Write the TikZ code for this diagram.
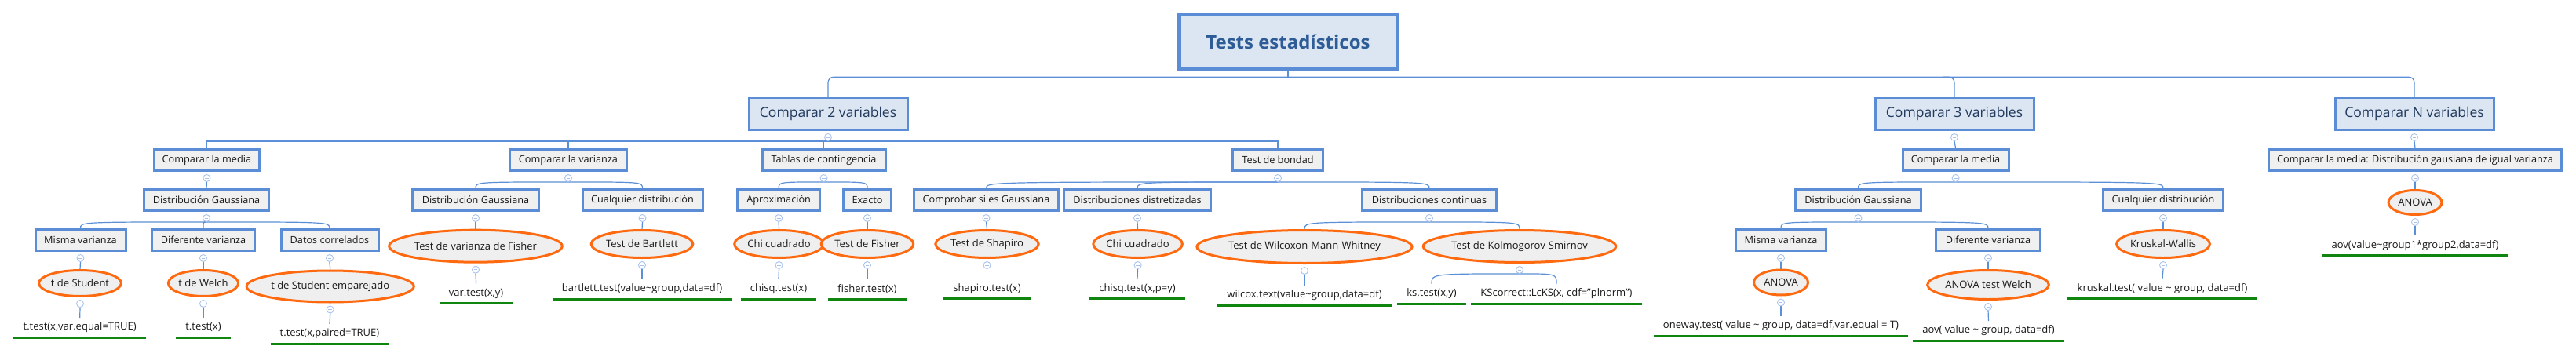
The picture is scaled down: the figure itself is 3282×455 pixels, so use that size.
\documentclass[tikz,border=0pt]{standalone}
\usepackage{fontspec}
\setmainfont{Open Sans}
\usetikzlibrary{shapes.geometric,calc,backgrounds}
\newcommand\fsz[1]{\fontsize{#1}{#1}\selectfont}
\definecolor{bblue}{HTML}{5A8DD6}
\definecolor{lfill}{HTML}{DCE6F2}
\definecolor{gfill}{HTML}{F0F0F0}
\definecolor{efill}{HTML}{EFEFEF}
\definecolor{orng}{HTML}{FF6A10}
\definecolor{ttl}{HTML}{2E5C96}
\definecolor{navy}{HTML}{223A5E}
\definecolor{cline}{HTML}{5B8FD8}
\definecolor{mline}{HTML}{A9C3EE}
\definecolor{grn}{HTML}{108510}
\definecolor{txt}{HTML}{1A1A1A}
\tikzset{
 l1/.style={rectangle, draw=bblue, line width=5pt, fill=lfill, text=ttl, font=\fsz{24}\bfseries, minimum width=278pt, minimum height=70pt, inner sep=0pt},
 l2/.style={rectangle, draw=bblue, line width=3pt, fill=lfill, text=navy, font=\fsz{17.5}, minimum width=202pt, minimum height=41pt, inner sep=0pt},
 bx/.style={rectangle, draw=bblue, line width=3pt, fill=gfill, text=txt, font=\fsz{12.7}, minimum height=27pt, inner sep=0pt},
 el/.style={ellipse, draw=orng, line width=3pt, fill=efill, text=txt, font=\fsz{13}, inner sep=0pt},
 ul/.style={draw=grn, line width=3pt},
 code/.style={text=txt, font=\fsz{13}, inner xsep=12pt, inner ysep=0pt, text height=9.5pt, text depth=3pt, minimum height=25pt, append after command={(\tikzlastnode.south west) edge[ul] (\tikzlastnode.south east)}},
 conn/.style={draw=cline, line width=1.2pt},
 mc/.style={circle, draw=mline, fill=white, line width=0.9pt, minimum size=9pt, inner sep=0pt, path picture={\draw[mline, line width=0.9pt] ([xshift=-2.4pt]path picture bounding box.center) -- ([xshift=2.4pt]path picture bounding box.center);}},
}
\newcommand\mcirc[1]{\node[mc] (m#1) at ($(#1.south)+(0,8)$) {};}
\newcommand\kid[2]{\draw[conn] (m#1.south) -- (#2.north);}
\newcommand\bkid[2]{\draw[conn] (m#1.south) .. controls (#2.north |- m#1.south) .. (#2.north);}
\begin{document}
\begin{tikzpicture}[x=1pt,y=-1pt]
\useasboundingbox (0,0) rectangle (3282,455);
% level 1 and 2
\node[l1] (t) at (1641,53.5) {Tests estadísticos};
\node[l2] (v2) at (1055,145) {Comparar 2 variables};
\node[l2] (v3) at (2490,145) {Comparar 3 variables};
\node[l2] (vN) at (3076,145) {Comparar N variables};
% level 3
\node[bx, minimum width=134pt] (a) at (263.4,204) {Comparar la media};
\node[bx, minimum width=149pt] (b) at (724,204) {Comparar la varianza};
\node[bx, minimum width=157pt] (c) at (1049.5,204) {Tablas de contingencia};
\node[bx, minimum width=115pt] (d) at (1628,204) {Test de bondad};
\node[bx, minimum width=135pt] (e) at (2491.6,204) {Comparar la media};
\node[bx, minimum width=373pt] (f) at (3077,204) {Comparar la media: Distribución gausiana de igual varianza};
% level 4
\node[bx, minimum width=159.5pt] (a1) at (263,255) {Distribución Gaussiana};
\node[bx, minimum width=160.5pt] (b1) at (606,255) {Distribución Gaussiana};
\node[bx, minimum width=153pt] (b2) at (818.5,255) {Cualquier distribución};
\node[bx, minimum width=105pt] (c1) at (992.2,255) {Aproximación};
\node[bx, minimum width=61pt] (c2) at (1105,255) {Exacto};
\node[bx, minimum width=184pt] (d1) at (1256.5,255) {Comprobar si es Gaussiana};
\node[bx, minimum width=187pt] (d2) at (1449,255) {Distribuciones distretizadas};
\node[bx, minimum width=170.5pt] (d3) at (1821,255) {Distribuciones continuas};
\node[bx, minimum width=160pt] (e1) at (2367.5,255) {Distribución Gaussiana};
\node[bx, minimum width=153pt] (e2) at (2756,255) {Cualquier distribución};
\node[el, minimum width=68pt, minimum height=31pt] (f1) at (3077,258) {ANOVA};
% level 5
\node[bx, minimum width=115pt] (a11) at (102.5,306) {Misma varianza};
\node[bx, minimum width=131.6pt] (a12) at (259,306) {Diferente varianza};
\node[bx, minimum width=124pt] (a13) at (420,306) {Datos correlados};
\node[el, minimum width=181pt, minimum height=41pt] (b11) at (606,313.7) {Test de varianza de Fisher};
\node[el, minimum width=116pt, minimum height=35pt] (b21) at (818,311) {Test de Bartlett};
\node[el, minimum width=102pt, minimum height=35pt] (c11) at (992.5,311) {Chi cuadrado};
\node[el, minimum width=105pt, minimum height=35pt] (c21) at (1105,311) {Test de Fisher};
\node[el, minimum width=115pt, minimum height=35pt] (d11) at (1257.5,311) {Test de Shapiro};
\node[el, minimum width=102pt, minimum height=35pt] (d21) at (1449.6,311) {Chi cuadrado};
\node[el, minimum width=224pt, minimum height=42pt] (d31) at (1662,314.5) {Test de Wilcoxon-Mann-Whitney};
\node[el, minimum width=203pt, minimum height=41pt] (d32) at (1936,314) {Test de Kolmogorov-Smirnov};
\node[bx, minimum width=115.6pt] (e11) at (2269,306) {Misma varianza};
\node[bx, minimum width=132.7pt] (e12) at (2533,306) {Diferente varianza};
\node[el, minimum width=107pt, minimum height=35pt] (e21) at (2756,311) {Kruskal-Wallis};
\node[code] (f11) at (3077,313) {aov(value\textasciitilde group1*group2,data=df)};
% level 6
\node[el, minimum width=97pt, minimum height=33pt] (a111) at (102,361) {t de Student};
\node[el, minimum width=85pt, minimum height=33pt] (a121) at (259,361) {t de Welch};
\node[el, minimum width=177pt, minimum height=40pt] (a131) at (420.7,365) {t de Student emparejado};
\node[code] (b111) at (606.6,374) {var.test(x,y)};
\node[code] (b211) at (818,368.3) {bartlett.test(value\textasciitilde group,data=df)};
\node[code] (c111) at (992,368.3) {chisq.test(x)};
\node[code] (c211) at (1105,369) {fisher.test(x)};
\node[code] (d111) at (1257.5,368) {shapiro.test(x)};
\node[code] (d211) at (1449,368) {chisq.test(x,p=y)};
\node[code] (d311) at (1662,376.7) {wilcox.text(value\textasciitilde group,data=df)};
\node[code] (d321) at (1824,374.3) {ks.test(x,y)};
\node[code] (d322) at (1983,374.3) {KScorrect::LcKS(x, cdf="plnorm")};
\node[el, minimum width=69pt, minimum height=32pt] (e111) at (2269,360) {ANOVA};
\node[el, minimum width=134pt, minimum height=37pt] (e121) at (2533,363) {ANOVA test Welch};
\node[code] (e211) at (2755,368) {kruskal.test( value \textasciitilde\ group, data=df)};
% level 7
\node[code] (a1111) at (101.7,417.7) {t.test(x,var.equal=TRUE)};
\node[code] (a1211) at (259,417.7) {t.test(x)};
\node[code] (a1311) at (420,425.7) {t.test(x,paired=TRUE)};
\node[code] (e1111) at (2269,415.7) {oneway.test( value \textasciitilde\ group, data=df,var.equal = T)};
\node[code] (e1211) at (2533.5,421.7) {aov( value \textasciitilde\ group, data=df)};
% collapse circles
\foreach \p in {v2,v3,vN,a,b,c,d,e,f,a1,b1,b2,c1,c2,d1,d2,d3,e1,e2,f1,a11,a12,a13,b11,b21,c11,c21,d11,d21,d31,d32,e11,e12,e21,a111,a121,a131,e111,e121} {\mcirc{\p}}
% hub coordinates
\coordinate (h1) at (1641,98.3);
\coordinate (j3) at (2476,98.3);
\coordinate (h2) at (1055,180);
\begin{pgfonlayer}{background}
\fill[white] (0,0) rectangle (3282,455);
\draw[conn] (t.south) -- (h1);
\draw[conn, rounded corners=7pt] (v2.north) |- (h1) -| (vN.north);
\draw[conn, rounded corners=7pt] (j3) -| (v3.north);
\draw[conn] (mv2.south) -- (h2);
\draw[conn] (a.north) |- (h2) -| (d.north);
\draw[conn] (b.north) -- (b.north |- h2);
\draw[conn] (c.north) -- (c.north |- h2);
\foreach \p/\c in {v3/e, vN/f, a/a1, f/f1, b1/b11, b2/b21, c1/c11, c2/c21, d1/d11, d2/d21, e2/e21, f1/f11, a11/a111, a12/a121, a13/a131, b11/b111, b21/b211, c11/c111, c21/c211, d11/d111, d21/d211, d31/d311, e11/e111, e12/e121, e21/e211, a111/a1111, a121/a1211, a131/a1311, e111/e1111, e121/e1211} {\kid{\p}{\c}}
\foreach \p/\c in {b/b1, b/b2, c/c1, c/c2, d/d1, d/d2, d/d3, e/e1, e/e2, a1/a11, a1/a12, a1/a13, d3/d31, d3/d32, e1/e11, e1/e12, d32/d321, d32/d322} {\bkid{\p}{\c}}
\end{pgfonlayer}
\end{tikzpicture}
\end{document}
